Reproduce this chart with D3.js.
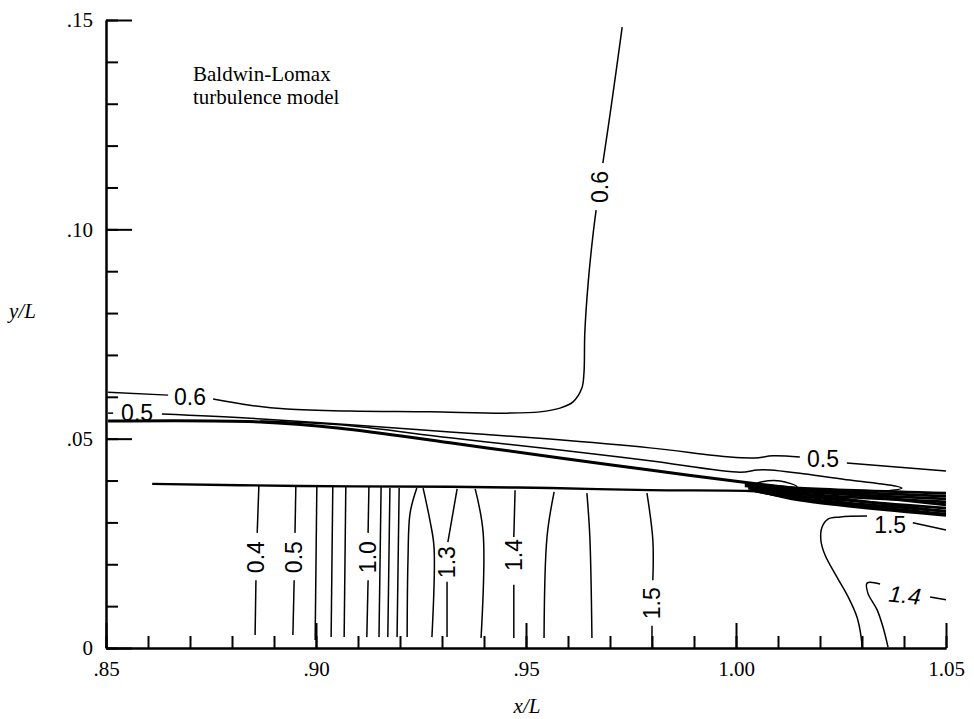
<!DOCTYPE html>
<html>
<head>
<meta charset="utf-8">
<script src="https://cdn.jsdelivr.net/npm/d3@7"></script>
<style>
  body { margin: 0; background: #fff; }
  svg { display: block; }
  .axis path, .axis line { stroke: #000; stroke-width: 2; }
  .axis text { font-family: "Liberation Serif", "Times New Roman", serif; font-size: 21px; fill: #000; }
</style>
</head>
<body>
<script>
// axis ticks
const xTicks = [0.85, 0.90, 0.95, 1.00, 1.05];
const yTicks = [0, 0.05, 0.10, 0.15];

// contour lines, [x/L, y/L], split where a label sits
const c06a = [[.8505, .0611], [.8648, .0604]];
const c06b = [[.8755, .0595], [.8843, .0580], [.8931, .0571], [.9081, .0566], [.9271, .0564],
  [.9455, .0561], [.9533, .0564], [.9581, .0573], [.9612, .0588], [.9633, .0621], [.9638, .0657],
  [.9640, .0752], [.9648, .0872], [.9660, .0991], [.9667, .1046]];
const c06c = [[.9683, .1158], [.9705, .1309], [.9729, .1483]];

const c05a = [[.8505, .0561], [.8517, .0561]];
const c05b = [[.8633, .0559], [.8843, .0549], [.9081, .0533], [.9319, .0516], [.9557, .0499],
  [.9795, .0478], [.9986, .0456], [1.0045, .0454], [1.0088, .0459], [1.0152, .0456]];
const c05c = [[1.0264, .0442], [1.0500, .0423]];

const c05loop = [[.8867, .0542], [.9057, .0533], [.9319, .0502], [.9581, .0473], [.9795, .0447],
  [1.0010, .0420], [1.0050, .0425], [1.0081, .0425], [1.0160, .0416], [1.0271, .0401],
  [1.0379, .0387], [1.0395, .0382], [1.0355, .0375], [1.0271, .0375], [1.0152, .0377]];

const smallLoop = [[1.0033, .0387], [1.0057, .0396], [1.0105, .0399], [1.0145, .0385],
  [1.0105, .0377], [1.0057, .0380], [1.0033, .0387]];

const heavyUpper = [[.8505, .0542], [.8867, .0540], [.9057, .0525], [.9319, .0490], [.9581, .0454],
  [.9795, .0425], [1.0033, .0394], [1.0152, .0380], [1.0500, .0342]];
const heavyLower = [[.8610, .0392], [.8962, .0387], [.9319, .0385], [.9557, .0382], [.9795, .0377],
  [1.0033, .0375], [1.0152, .0368], [1.0500, .0325]];

const bundle = [
  [[1.0021, .0392], [1.0152, .0382], [1.0500, .0370]],
  [[1.0021, .0387], [1.0152, .0377], [1.0500, .0363]],
  [[1.0029, .0382], [1.0152, .0373], [1.0500, .0356]],
  [[1.0033, .0380], [1.0152, .0368], [1.0500, .0349]],
  [[1.0038, .0377], [1.0152, .0363], [1.0500, .0334]],
  [[1.0045, .0375], [1.0152, .0358], [1.0500, .0327]],
  [[1.0057, .0373], [1.0152, .0356], [1.0500, .0320]],
  [[1.0070, .0371], [1.0152, .0353], [1.0500, .0317]]
];

const vLines = [
  [[.8864, .0387], [.8860, .0275]], [[.8857, .0162], [.8855, .0031]],
  [[.8952, .0387], [.8950, .0275]], [[.8948, .0162], [.8945, .0031]],
  [[.9002, .0387], [.8998, .0019]],
  [[.9040, .0387], [.9036, .0026]],
  [[.9071, .0387], [.9067, .0026]],
  [[.9126, .0385], [.9124, .0275]], [[.9124, .0162], [.9121, .0026]],
  [[.9155, .0385], [.9150, .0026]],
  [[.9176, .0382], [.9171, .0026]],
  [[.9198, .0382], [.9193, .0026]],
  [[.9240, .0382], [.9224, .0322], [.9219, .0210], [.9217, .0026]],
  [[.9255, .0382], [.9271, .0306], [.9281, .0241], [.9276, .0026]],
  [[.9336, .0380], [.9314, .0253]], [[.9312, .0158], [.9312, .0026]],
  [[.9379, .0380], [.9398, .0275], [.9393, .0024]],
  [[.9474, .0377], [.9471, .0265]], [[.9471, .0151], [.9471, .0024]],
  [[.9567, .0373], [.9550, .0265], [.9543, .0024]],
  [[.9645, .0370], [.9652, .0265], [.9657, .0024]],
  [[.9788, .0370], [.9802, .0258], [.9802, .0162]], [[.9800, .0053], [.9800, 0]]
];

const c15a = [[1.0500, .0282], [1.0421, .0299]];
const c15b = [[1.0312, .0315], [1.0248, .0313], [1.0219, .0308], [1.0205, .0289], [1.0202, .0258],
  [1.0212, .0222], [1.0240, .0170], [1.0267, .0122], [1.0288, .0074], [1.0298, .0026], [1.0300, 0]];
const c14a = [[1.0500, .0115], [1.0462, .0122]];
const c14b = [[1.0343, .0153], [1.0312, .0155], [1.0314, .0131], [1.0336, .0091], [1.0350, .0050], [1.0362, .0002]];

const labels = [
  { t: "0.6", x: .8700, y: .0600, a: 0 },
  { t: "0.5", x: .8574, y: .0563, a: 0 },
  { t: "0.6", x: .9676, y: .1101, a: -90 },
  { t: "0.5", x: 1.0207, y: .0451, a: 0 },
  { t: "0.4", x: .8857, y: .0217, a: -90 },
  { t: "0.5", x: .8948, y: .0217, a: -90 },
  { t: "1.0", x: .9124, y: .0217, a: -90 },
  { t: "1.3", x: .9312, y: .0205, a: -90 },
  { t: "1.4", x: .9471, y: .0222, a: -90 },
  { t: "1.5", x: .9800, y: .0107, a: -90 },
  { t: "1.5", x: 1.0367, y: .0294, a: 0 },
  { t: "1.4", x: 1.0402, y: .0127, a: 6, it: true }
];

const W = 974, H = 719;
const x = d3.scaleLinear().domain([0.85, 1.05]).range([106, 946]);
const y = d3.scaleLinear().domain([0, 0.15]).range([648, 20]);

const svg = d3.select("body").append("svg").attr("width", W).attr("height", H);

const fmt = d => d === 0 ? "0" : d3.format(".2f")(d).replace(/^0/, "");
const minor = d3.range(0, 21).map(i => 0.85 + i * 0.01);
const minorY = d3.range(0, 16).map(i => i * 0.01);

svg.append("g").attr("class", "axis").attr("transform", "translate(0,648)")
  .call(d3.axisBottom(x).tickValues(minor).tickSizeInner(-12).tickSizeOuter(0).tickFormat(""));
svg.append("g").attr("class", "axis").attr("transform", "translate(0,648)")
  .call(d3.axisBottom(x).tickValues(xTicks).tickSizeInner(-25).tickSizeOuter(0).tickPadding(13).tickFormat(fmt));
svg.append("g").attr("class", "axis").attr("transform", "translate(106,0)")
  .call(d3.axisLeft(y).tickValues(minorY).tickSizeInner(-12).tickSizeOuter(0).tickFormat(""));
svg.append("g").attr("class", "axis").attr("transform", "translate(106,0)")
  .call(d3.axisLeft(y).tickValues(yTicks).tickSizeInner(-26).tickSizeOuter(0).tickPadding(13).tickFormat(fmt));

const line = d3.line().x(d => x(d[0])).y(d => y(d[1])).curve(d3.curveCatmullRom.alpha(0.5));

const thin = [c06a, c06b, c06c, c05a, c05b, c05c, c05loop, smallLoop, c15a, c15b, c14a, c14b].concat(vLines);
svg.append("g").selectAll("path").data(thin).join("path")
  .attr("d", line).attr("fill", "none").attr("stroke", "#000").attr("stroke-width", 1.5);

svg.append("g").selectAll("path").data(bundle).join("path")
  .attr("d", line).attr("fill", "none").attr("stroke", "#000").attr("stroke-width", 2.8);

svg.append("path").datum(heavyUpper).attr("d", line)
  .attr("fill", "none").attr("stroke", "#000").attr("stroke-width", 3);
svg.append("path").datum(heavyLower).attr("d", line)
  .attr("fill", "none").attr("stroke", "#000").attr("stroke-width", 2.4);

svg.append("g").selectAll("text").data(labels).join("text")
  .attr("transform", d => `translate(${x(d.x)},${y(d.y)}) rotate(${d.a})`)
  .attr("text-anchor", "middle").attr("dy", "0.36em")
  .style("font-family", "'Liberation Sans', Arial, sans-serif")
  .style("font-size", "23px")
  .style("font-style", d => d.it ? "italic" : "normal")
  .text(d => d.t);

const serif = "'Liberation Serif', 'Times New Roman', serif";
const note = svg.append("text").attr("x", 193).attr("y", 81)
  .style("font-family", serif).style("font-size", "21px");
note.append("tspan").attr("x", 193).text("Baldwin-Lomax");
note.append("tspan").attr("x", 193).attr("y", 104).text("turbulence model");

svg.append("text").attr("x", 527).attr("y", 713).attr("text-anchor", "middle")
  .style("font-family", serif).style("font-size", "21px").style("font-style", "italic").text("x/L");
svg.append("text").attr("x", 9).attr("y", 318)
  .style("font-family", serif).style("font-size", "21px").style("font-style", "italic").text("y/L");
</script>
</body>
</html>
